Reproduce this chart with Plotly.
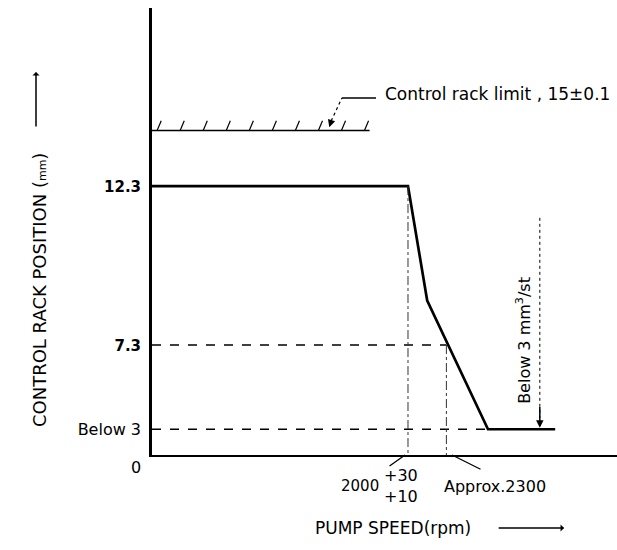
import plotly.graph_objects as go

# ---- data (schematic diagram values) ----
speed_rpm = [0, 2000, 2150, 2625, 3150]
rack_mm = [12.3, 12.3, 8.7, 4.65, 4.65]

y_tick_vals = [12.3, 7.3, 4.65]
y_tick_text = ["<span style='font-size:15px'><b>12.3</b></span>",
               "<span style='font-size:15px'><b>7.3</b></span>", "Below 3"]

limit_level = 14.05        # drawn level of the control rack limit line
limit_end_rpm = 1700
limit_label = "Control rack limit , 15±0.1"

speed_a = 2000             # 2000 +30/+10
speed_b = 2300             # approx 2300
rack_mid = 7.3
rack_low = 4.65

leak_rpm = 3030
leak_top = 11.3
leak_label = "Below 3 mm<sup>3</sup>/st"

X_RANGE = [0, 3633]
Y_RANGE = [3.84, 17.9]
FONT = "DejaVu Sans, Liberation Sans, sans-serif"

fig = go.Figure()

# main curve
fig.add_trace(go.Scatter(x=speed_rpm, y=rack_mm, mode="lines",
                         line=dict(color="black", width=2.7), hoverinfo="skip"))

# dashed horizontal reference lines
fig.add_trace(go.Scatter(x=[0, speed_b], y=[rack_mid, rack_mid], mode="lines",
                         line=dict(color="black", width=1.5, dash="dash")))
fig.add_trace(go.Scatter(x=[0, speed_rpm[3]], y=[rack_low, rack_low], mode="lines",
                         line=dict(color="black", width=1.5, dash="dash")))

# dash-dot verticals
fig.add_trace(go.Scatter(x=[speed_a, speed_a], y=[rack_mm[1], Y_RANGE[0]], mode="lines",
                         line=dict(color="#333", width=1, dash="dashdot")))
fig.add_trace(go.Scatter(x=[speed_b, speed_b], y=[rack_mid, Y_RANGE[0]], mode="lines",
                         line=dict(color="#333", width=1, dash="dashdot")))

# control rack limit line with hatching
fig.add_trace(go.Scatter(x=[0, limit_end_rpm], y=[limit_level, limit_level], mode="lines",
                         line=dict(color="black", width=1.5)))
hx, hy = [], []
x0 = 40
while x0 < limit_end_rpm - 10:
    hx += [x0, x0 + 32, None]
    hy += [limit_level, limit_level + 0.3, None]
    x0 += 180
fig.add_trace(go.Scatter(x=hx, y=hy, mode="lines", line=dict(color="black", width=1.2)))

# leader for limit label
fig.add_trace(go.Scatter(x=[1400, 1484], y=[14.35, 15.07], mode="lines",
                         line=dict(color="black", width=1.2, dash="dot")))
fig.add_trace(go.Scatter(x=[1484, 1750], y=[15.07, 15.07], mode="lines",
                         line=dict(color="black", width=1.5)))

# leak measurement dotted line
fig.add_trace(go.Scatter(x=[leak_rpm, leak_rpm], y=[leak_top, 5.0], mode="lines",
                         line=dict(color="black", width=1, dash="dot")))

ann = []
def P(px):  # paper y from pixel row (plot spans rows 8..455)
    return (455 - px) / 447.0

def PX(px):  # paper x from pixel column (plot spans 152..617)
    return (px - 152) / 465.0

def txt(**kw):
    d = dict(showarrow=False, xanchor="center", yanchor="middle")
    d.update(kw)
    return d

# limit arrowhead + label
ann.append(dict(x=1385, y=14.15, ax=1405, ay=14.4, axref="x", ayref="y", xref="x", yref="y",
                text="", showarrow=True, arrowhead=2, arrowsize=1, arrowwidth=1.5, arrowcolor="black"))
ann.append(txt(x=1805, y=15.2, xref="x", yref="y", text=limit_label, xanchor="left",
               font=dict(size=17, color="black", family=FONT)))

# leak arrowhead + label
ann.append(dict(x=leak_rpm, y=rack_low + 0.05, ax=leak_rpm, ay=5.4, axref="x", ayref="y",
                xref="x", yref="y", text="", showarrow=True, arrowhead=2, arrowsize=1,
                arrowwidth=1.5, arrowcolor="black"))
ann.append(txt(x=2906, y=7.46, xref="x", yref="y", text=leak_label, textangle=-90,
               font=dict(size=16, color="black", family=FONT)))

# x tick labels
ann.append(txt(x=1789, y=P(486), xref="x", yref="paper", text="2000", xanchor="right",
               font=dict(size=15, color="black", family=FONT)))
ann.append(txt(x=1795, y=P(486), xref="x", yref="paper", text="+30<br>+10", xanchor="left",
               align="left", font=dict(size=16, color="black", family=FONT)))
ann.append(txt(x=2266, y=P(486), xref="x", yref="paper", text="Approx.2300", xanchor="left",
               font=dict(size=16, color="black", family=FONT)))
# leader lines under the x ticks
ann.append(dict(x=1977, y=Y_RANGE[0], xref="x", yref="y", ax=-17, ay=12, text="",
                showarrow=True, arrowhead=0, arrowwidth=1.3, arrowcolor="black"))
ann.append(dict(x=2344, y=Y_RANGE[0], xref="x", yref="y", ax=30, ay=15, text="",
                showarrow=True, arrowhead=0, arrowwidth=1.3, arrowcolor="black"))

# origin label
ann.append(txt(x=PX(136), y=P(467), xref="paper", yref="paper", text="0",
               font=dict(size=16, color="black", family=FONT)))

# axis titles with arrows
ann.append(txt(x=1883, y=P(528), xref="x", yref="paper", text="PUMP SPEED(rpm)",
               font=dict(size=17, color="black", family=FONT)))
ann.append(dict(x=3220, y=P(528), xref="x", yref="paper", ax=-67, ay=0, text="", showarrow=True,
                arrowhead=1, arrowsize=0.8, arrowwidth=1.5, arrowcolor="black"))
ann.append(txt(x=PX(39), y=P(290), xref="paper", yref="paper",
               text="CONTROL RACK POSITION (<span style='font-size:11px'>mm</span>)",
               textangle=-90, font=dict(size=18, color="black", family=FONT)))
ann.append(dict(x=PX(36), y=P(72), xref="paper", yref="paper", ax=0, ay=56, text="", showarrow=True,
                arrowhead=1, arrowsize=0.8, arrowwidth=1.5, arrowcolor="black"))

fig.update_layout(
    width=617, height=550, autosize=False,
    margin=dict(l=152, r=0, t=8, b=95),
    paper_bgcolor="white", plot_bgcolor="white",
    showlegend=False, annotations=ann, hovermode=False,
    font=dict(family=FONT, color="black"),
)
fig.update_xaxes(range=X_RANGE, showline=True, linecolor="black", linewidth=2, showgrid=False,
                 zeroline=False, showticklabels=False, ticks="")
fig.update_yaxes(range=Y_RANGE, showline=True, linecolor="black", linewidth=2.5, showgrid=False,
                 zeroline=False, tickvals=y_tick_vals, ticktext=y_tick_text, ticks="",
                 ticklabelstandoff=5, tickfont=dict(size=16, color="black", family=FONT))

# remove the page's default body margin so the figure sits at the window origin
fig.write_html("out.html", config={"displayModeBar": False},
               post_script="document.body.style.margin='0';document.body.style.overflow='hidden';")
